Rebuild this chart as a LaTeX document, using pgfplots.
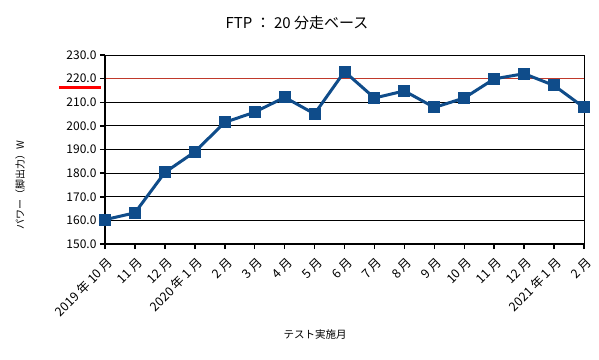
\documentclass[border=0pt]{standalone}
\usepackage{fontspec}
\setmainfont{Noto Sans CJK JP}
\usepackage{pgfplots}
\pgfplotsset{compat=1.18}
\definecolor{lineblue}{HTML}{0F4C8A}
\definecolor{refred}{HTML}{C0392B}
\begin{document}
\begin{tikzpicture}
\useasboundingbox (-105pt,-115pt) rectangle (494pt,244pt);
\begin{axis}[
  at={(0,0)}, anchor=south west,
  scale only axis, width=479pt, height=189pt,
  xmin=0, xmax=16, ymin=150, ymax=230,
  ytick={150,160,...,230},
  xtick={0,...,16},
  xticklabels={2019 年 10 月, 11 月, 12 月, 2020 年 1 月, 2 月, 3 月, 4 月, 5 月, 6 月, 7 月, 8 月, 9 月, 10 月, 11 月, 12 月, 2021 年 1 月, 2 月},
  xticklabel style={rotate=45, anchor=east, font=\fontsize{12.5}{14}\selectfont, yshift=-12pt, xshift=-1pt},
  yticklabel style={font=\fontsize{12}{14}\selectfont},
  /pgf/number format/assume math mode=true,
  /pgf/number format/.cd, fixed, fixed zerofill, precision=1, /pgfplots/.cd,
  tick align=outside, major tick length=5pt,
  xtick pos=bottom, ytick pos=left,
  tick style={black, line width=1.5pt},
  ymajorgrids, grid style={black, line width=0.8pt},
  axis line style={black, line width=0.8pt},
  clip=false,
]
\addplot[refred, line width=0.8pt, forget plot] coordinates {(0,220) (16,220)};
\draw[black, line width=2pt] (rel axis cs:0,1) -- (rel axis cs:0,0) -- (rel axis cs:1,0);
\draw[red, line width=3pt] (axis cs:-1.54,216.2) -- (axis cs:-0.14,216.2);
\addplot[lineblue, line width=3pt, mark=square*, mark size=4.5pt, mark options={solid, fill=lineblue}] coordinates {
(0,160.3) (1,163.2) (2,180.3) (3,189.0) (4,201.5) (5,205.8) (6,212.1) (7,205.1) (8,223.0)
(9,211.8) (10,214.8) (11,207.8) (12,211.8) (13,219.9) (14,222.1) (15,217.1) (16,207.8)};
\end{axis}
\node[font=\fontsize{15}{18}\selectfont] at (192pt,221pt) {FTP ： 20 分走ベース};
\node[rotate=90, font=\fontsize{10}{12}\selectfont] at (-85pt,59pt) {パワー（脚出力）W};
\node[font=\fontsize{10.5}{12}\selectfont] at (210pt,-91pt) {テスト実施月};
\end{tikzpicture}
\end{document}
